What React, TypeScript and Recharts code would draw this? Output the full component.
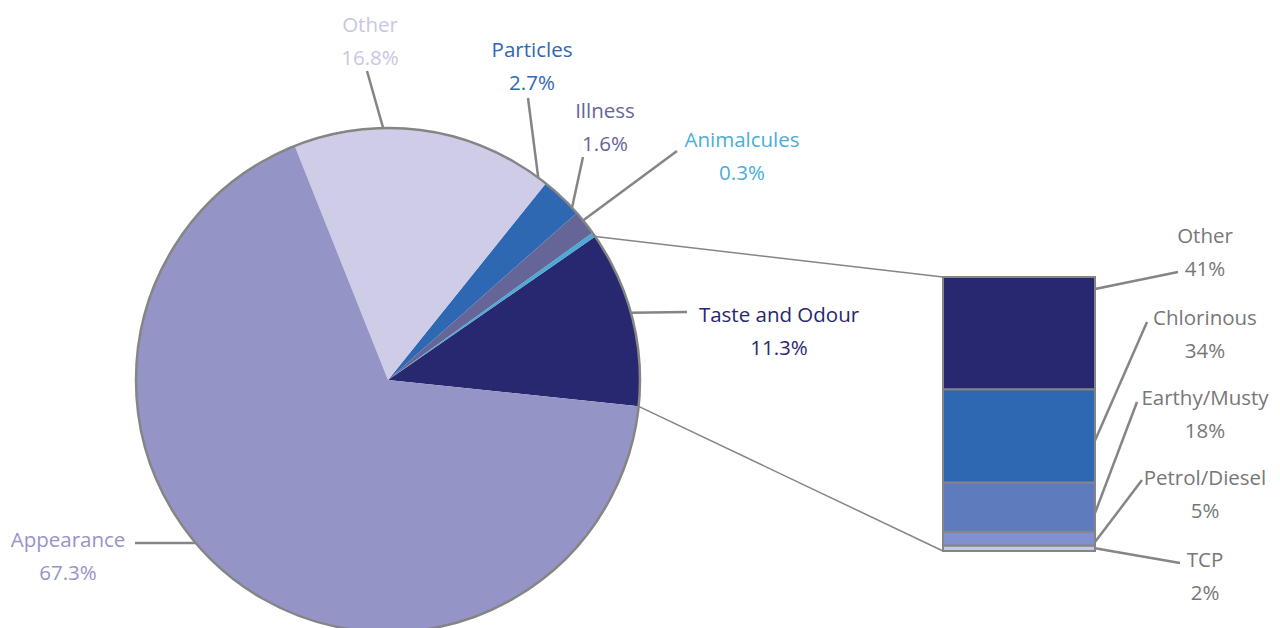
import { PieChart, Pie, Cell, BarChart, Bar, XAxis, YAxis } from "recharts";

// pie: complaint categories
const pieNames = ["Taste and Odour", "Animalcules", "Illness", "Particles", "Other", "Appearance"];
const pieValues = [11.3, 0.3, 1.6, 2.7, 16.8, 67.3];

// breakdown of Taste and Odour (bottom to top of the stack)
const tasteKeys = ["tcp", "petrol", "earthy", "chlorinous", "other"];
const tasteNames = ["TCP", "Petrol/Diesel", "Earthy/Musty", "Chlorinous", "Other"];
const tasteValues = [2, 5, 18, 34, 41];

const pieData = pieNames.map((name, i) => ({ name, value: pieValues[i] }));
const barRow: Record<string, number | string> = { name: "Taste and Odour" };
tasteKeys.forEach((k, i) => (barRow[k] = tasteValues[i]));

const W = 1280;
const H = 628;
const CX = 388;
const CY = 380;
const R = 252;
const FONT = "'Open Sans', sans-serif";
const FS = 20.5;
const LINE = "#858585";

const BAR_BOX = { left: 943, top: 277, width: 152, height: 274 };

const pieFill = ["#27286f", "#4babd6", "#656598", "#2f68b2", "#cfcce8", "#9594c7"];
const pieText = ["#27286f", "#4aaed8", "#656598", "#2f68b2", "#c9c6e4", "#9594c7"];
const barFill = ["#c4cae6", "#7f91cf", "#5d7bbd", "#2f68b2", "#27286f"];

// label placement relative to the pie centre: leader start angle, leader end, text centre
const pieLabelPos = [
  { a: 15.5, ex: 299, ey: -68, tx: 391, ty: -58 },
  { a: 39.3, ex: 289, ey: -229, tx: 354, ty: -233 },
  { a: 43.1, ex: 195, ey: -223, tx: 217, ty: -262 },
  { a: 53.4, ex: 140, ey: -282, tx: 144, ty: -323 },
  { a: 91.1, ex: -21, ey: -309, tx: -18, ty: -348 },
  { a: 220.3, ex: -253, ey: 163, tx: -320, ty: 167 },
];

// bar labels: fraction down the segment for leader start, leader end, text baseline
const barLabelPos: Record<string, { f: number; ex: number; ey: number; ty: number }> = {
  other: { f: 0.107, ex: 1178, ey: 272, ty: 243 },
  chlorinous: { f: 0.55, ex: 1147, ey: 322, ty: 325 },
  earthy: { f: 0.62, ex: 1137, ey: 402, ty: 405 },
  petrol: { f: 0.75, ex: 1142, ey: 480, ty: 485 },
  tcp: { f: 0.5, ex: 1180, ey: 563, ty: 567 },
};
const BAR_TEXT_X = 1205;

const rad = Math.PI / 180;
const polar = (cx: number, cy: number, r: number, a: number) => ({
  x: cx + r * Math.cos(-a * rad),
  y: cy + r * Math.sin(-a * rad),
});

const renderPieLabel = (props: any) => {
  const { cx, cy, outerRadius, index, midAngle, percent } = props;
  const p = pieLabelPos[index];
  const s = polar(cx, cy, outerRadius, p.a);
  const d = pieData[index];
  let connectors = null;
  if (index === 0) {
    const half = percent * 180;
    const a0 = polar(cx, cy, outerRadius, midAngle - half);
    const a1 = polar(cx, cy, outerRadius, midAngle + half);
    connectors = (
      <g stroke={LINE} strokeWidth={1.5}>
        <line x1={a1.x} y1={a1.y} x2={BAR_BOX.left} y2={BAR_BOX.top} />
        <line x1={a0.x} y1={a0.y} x2={BAR_BOX.left} y2={BAR_BOX.top + BAR_BOX.height} />
      </g>
    );
  }
  return (
    <g key={`pl-${index}`}>
      {connectors}
      <line x1={s.x} y1={s.y} x2={cx + p.ex} y2={cy + p.ey} stroke={LINE} strokeWidth={2.5} />
      <text
        x={cx + p.tx}
        y={cy + p.ty}
        textAnchor="middle"
        fill={pieText[index]}
        fontFamily={FONT}
        fontSize={FS}
      >
        <tspan x={cx + p.tx}>{d.name}</tspan>
        <tspan x={cx + p.tx} dy={33}>{`${d.value}%`}</tspan>
      </text>
    </g>
  );
};

const makeBarLabel = (key: string, i: number) => (props: any) => {
  const { x, y, width, height } = props;
  const p = barLabelPos[key];
  const sx = Number(x) + Number(width);
  const sy = Number(y) + Number(height) * p.f;
  return (
    <g>
      <line x1={sx} y1={sy} x2={p.ex} y2={p.ey} stroke={LINE} strokeWidth={2.5} />
      <text x={BAR_TEXT_X} y={p.ty} textAnchor="middle" fill="#777777" fontFamily={FONT} fontSize={FS}>
        <tspan x={BAR_TEXT_X}>{tasteNames[i]}</tspan>
        <tspan x={BAR_TEXT_X} dy={33}>{`${tasteValues[i]}%`}</tspan>
      </text>
    </g>
  );
};

export default function App() {
  return (
    <div style={{ position: "absolute", left: 0, top: 0, width: W, height: H, background: "#fff" }}>
      <div style={{ position: "absolute", left: 0, top: 0 }}>
        <PieChart width={W} height={H} margin={{ top: 0, right: 0, bottom: 0, left: 0 }}>
          <Pie
            data={pieData}
            dataKey="value"
            cx={CX}
            cy={CY}
            outerRadius={R}
            startAngle={-6}
            endAngle={354}
            stroke="none"
            label={renderPieLabel}
            labelLine={false}
            isAnimationActive={false}
          >
            {pieData.map((d, i) => (
              <Cell key={d.name} fill={pieFill[i]} />
            ))}
          </Pie>
          <Pie
            data={[{ name: "outline", value: 1 }]}
            dataKey="value"
            cx={CX}
            cy={CY}
            innerRadius={R}
            outerRadius={R}
            startAngle={0}
            endAngle={360}
            fill="none"
            stroke={LINE}
            strokeWidth={2.5}
            isAnimationActive={false}
          />
        </PieChart>
      </div>
      <div style={{ position: "absolute", left: 0, top: 0 }}>
        <BarChart
          width={W}
          height={H}
          data={[barRow]}
          barCategoryGap={0}
          margin={{
            top: BAR_BOX.top,
            left: BAR_BOX.left,
            right: W - BAR_BOX.left - BAR_BOX.width,
            bottom: H - BAR_BOX.top - BAR_BOX.height,
          }}
        >
          <XAxis dataKey="name" hide />
          <YAxis type="number" domain={[0, 100]} hide />
          {tasteKeys.map((k, i) => (
            <Bar
              key={k}
              dataKey={k}
              stackId="t"
              fill={barFill[i]}
              stroke={LINE}
              strokeWidth={2}
              label={makeBarLabel(k, i)}
              isAnimationActive={false}
            />
          ))}
        </BarChart>
      </div>
    </div>
  );
}
